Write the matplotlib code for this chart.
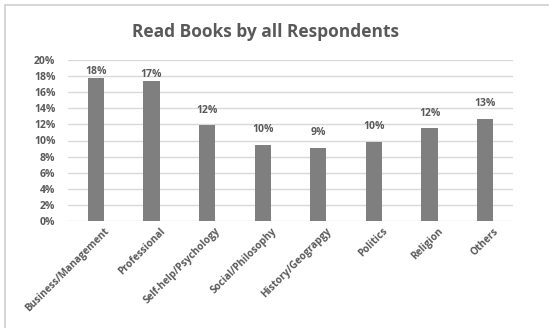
import math
import matplotlib.pyplot as plt
from matplotlib.patches import Rectangle
from matplotlib.ticker import FuncFormatter
from matplotlib.transforms import ScaledTranslation

categories = ['Business/Management', 'Professional', 'Self-help/Psychology',
              'Social/Philosophy', 'History/Geograpgy', 'Politics', 'Religion', 'Others']
shares = [17.8, 17.4, 11.9, 9.5, 9.1, 9.8, 11.5, 12.7]
yticks = list(range(0, 21, 2))

W, H = 549, 328
fig = plt.figure(figsize=(W / 100, H / 100), dpi=100)
fig.patch.set_facecolor('white')

# outer chart border (only top/left edges visible)
fig.patches.append(Rectangle((5 / W, -0.1), 1.2, (H - 5) / H + 0.1, transform=fig.transFigure,
                             fill=False, edgecolor='#d0d0d0', linewidth=1.2))

ax = fig.add_axes([68 / W, 1 - 221 / H, 445 / W, 161 / H])
x = list(range(len(categories)))
ax.bar(x, shares, width=0.29, color='#7f7f7f', zorder=3)

# labels sit above the bars, squeezed down near the top of the plot
for xi, v in zip(x, shares):
    y = v + 1.2 if v < 16 else v + 0.1
    ax.text(xi, y, f'{math.floor(v + 0.5)}%', ha='center', va='bottom',
            fontsize=7.5, color='#595959', fontweight='bold', family='Open Sans')

ax.set_xlim(-0.5, len(categories) - 0.5)
ax.set_ylim(0, 20)
ax.set_yticks(yticks)
ax.yaxis.set_major_formatter(FuncFormatter(lambda v, p: f'{v:.0f}%'))
ax.grid(axis='y', color='#d9d9d9', linewidth=1, zorder=0)
for s in ax.spines.values():
    s.set_visible(False)
ax.tick_params(length=0)
ax.tick_params(axis='y', pad=9, labelsize=7.5, labelcolor='#595959')
ax.set_xticks(x)
ax.set_xticklabels(categories, rotation=45, ha='right', rotation_mode='anchor',
                   fontsize=7.2, color='#595959')
shift = ScaledTranslation(8 / 100, 0, fig.dpi_scale_trans)
for lab in ax.get_xticklabels():
    lab.set_transform(lab.get_transform() + shift)
for lab in ax.get_yticklabels() + ax.get_xticklabels():
    lab.set_family('Open Sans')
    lab.set_fontweight('bold')

fig.text(266 / W, 1 - 32 / H, 'Read Books by all Respondents', ha='center', va='center',
         fontsize=12.5, fontweight='bold', color='#595959', family='Open Sans')

fig.savefig('out.png', dpi=100)
